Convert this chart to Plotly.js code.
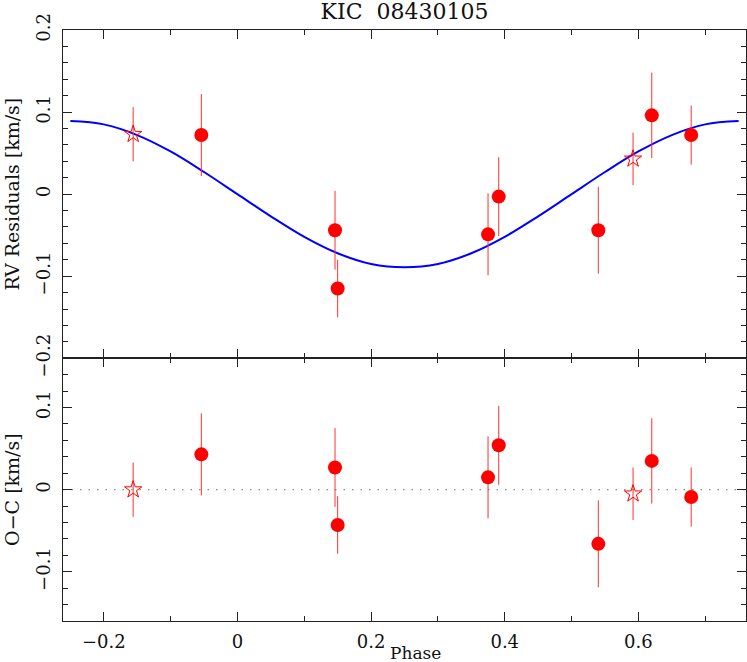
<!DOCTYPE html>
<html>
<head>
<meta charset="utf-8">
<script src="https://cdn.plot.ly/plotly-3.0.1.min.js"></script>
<style>html,body{margin:0;padding:0;background:#fff;}#chart{width:747px;height:662px;}</style>
</head>
<body>
<div id="chart"></div>
<script>
// Data
const dotPhase  = [-0.054, 0.146, 0.150, 0.375, 0.391, 0.540, 0.620, 0.679];
const dotRV     = [0.072, -0.044, -0.115, -0.049, -0.003, -0.044, 0.096, 0.072];
const dotRVErr  = [0.050, 0.048, 0.035, 0.050, 0.048, 0.053, 0.052, 0.036];
const dotOC     = [0.043, 0.027, -0.043, 0.015, 0.054, -0.066, 0.035, -0.009];
const dotOCErr  = [0.050, 0.048, 0.035, 0.050, 0.048, 0.053, 0.052, 0.036];

const starPhase = [-0.156, 0.592];
const starRV    = [0.073, 0.043];
const starRVErr = [0.033, 0.032];
const starOC    = [0.000, -0.005];
const starOCErr = [0.033, 0.032];

const modelPhase = [-0.25, -0.20, -0.15, -0.10, -0.05, 0.00, 0.05, 0.10, 0.15, 0.20, 0.25,
                    0.30, 0.35, 0.40, 0.45, 0.50, 0.55, 0.60, 0.65, 0.70, 0.75];
const modelRV    = [0.089, 0.085, 0.072, 0.052, 0.027, 0.000, -0.027, -0.052, -0.072, -0.085, -0.089,
                    -0.085, -0.072, -0.052, -0.027, 0.000, 0.027, 0.052, 0.072, 0.085, 0.089];

const titleText = 'KIC\u00A0\u00A008430105';
const yTitleTop = 'RV Residuals [km/s]';
const yTitleBottom = 'O\u2212C [km/s]';
const xTitle = 'Phase';

const FONT = 'DejaVu Serif, Liberation Serif, serif';
const AX = '#222';
const RED = '#ff0000';
const ERRC = '#ff3030';

const traces = [
  {x: modelPhase, y: modelRV, xaxis: 'x', yaxis: 'y', mode: 'lines', type: 'scatter',
   line: {color: '#0000ff', width: 2, shape: 'spline', smoothing: 1}, hoverinfo: 'skip'},
  {x: dotPhase, y: dotRV, xaxis: 'x', yaxis: 'y', mode: 'markers', type: 'scatter',
   marker: {symbol: 'circle', size: 14, color: RED, line: {width: 0}},
   error_y: {type: 'data', array: dotRVErr, visible: true, color: ERRC, thickness: 1, width: 0}},
  {x: starPhase, y: starRV, xaxis: 'x', yaxis: 'y', mode: 'markers', type: 'scatter',
   marker: {symbol: 'star-open', size: 13, color: RED, line: {width: 1, color: RED}},
   error_y: {type: 'data', array: starRVErr, visible: true, color: ERRC, thickness: 1, width: 0}},
  {x: dotPhase, y: dotOC, xaxis: 'x2', yaxis: 'y2', mode: 'markers', type: 'scatter',
   marker: {symbol: 'circle', size: 14, color: RED, line: {width: 0}},
   error_y: {type: 'data', array: dotOCErr, visible: true, color: ERRC, thickness: 1, width: 0}},
  {x: starPhase, y: starOC, xaxis: 'x2', yaxis: 'y2', mode: 'markers', type: 'scatter',
   marker: {symbol: 'star-open', size: 13, color: RED, line: {width: 1, color: RED}},
   error_y: {type: 'data', array: starOCErr, visible: true, color: ERRC, thickness: 1, width: 0}}
];

const common = {
  showline: true, linecolor: AX, linewidth: 1, mirror: 'ticks',
  ticks: 'inside', ticklen: 9, tickwidth: 1, tickcolor: AX,
  showgrid: false, zeroline: false,
  tickfont: {family: FONT, size: 18, color: '#111'}
};
const xRange = [-0.261, 0.761];
const split = 0.4445;

const layout = {
  width: 747, height: 662,
  margin: {l: 63, r: 1, t: 30, b: 41},
  paper_bgcolor: '#fff', plot_bgcolor: '#fff',
  showlegend: false,
  font: {family: FONT, color: '#111'},
  title: {text: titleText, font: {family: FONT, size: 22, color: '#111'},
          x: 0.5, xref: 'paper', y: 0.983, yref: 'container', yanchor: 'middle'},
  xaxis: Object.assign({}, common, {anchor: 'y', range: xRange, tick0: 0, dtick: 0.2,
          showticklabels: false, minor: {ticks: 'inside', ticklen: 5, tickcolor: AX, dtick: 0.1, tick0: 0}}),
  yaxis: Object.assign({}, common, {anchor: 'x', domain: [split, 1], range: [-0.2, 0.2], tick0: 0, dtick: 0.1,
          tickangle: -90, ticklabelstandoff: 5,
          minor: {ticks: 'inside', ticklen: 5, tickcolor: AX, dtick: 0.02, tick0: 0},
          title: {text: yTitleTop, font: {family: FONT, size: 19, color: '#111'}, standoff: 8}}),
  xaxis2: Object.assign({}, common, {anchor: 'y2', matches: 'x', range: xRange, tick0: 0, dtick: 0.2,
          ticklabelstandoff: 4,
          minor: {ticks: 'inside', ticklen: 5, tickcolor: AX, dtick: 0.1, tick0: 0}}),
  yaxis2: Object.assign({}, common, {anchor: 'x2', domain: [0, split], range: [-0.16, 0.16], tick0: 0, dtick: 0.1,
          tickangle: -90, ticklabelstandoff: 5,
          minor: {ticks: 'inside', ticklen: 5, tickcolor: AX, dtick: 0.02, tick0: 0},
          title: {text: yTitleBottom, font: {family: FONT, size: 19, color: '#111'}, standoff: 8}}),
  shapes: [{type: 'line', xref: 'x2 domain', yref: 'y2', x0: 0, x1: 1, y0: 0, y1: 0,
            line: {color: '#888', width: 1.2, dash: '1.5px,7px'}, layer: 'below'}],
  annotations: [{text: xTitle, xref: 'paper', yref: 'paper', x: 0.5, y: 0,
                 xanchor: 'center', yanchor: 'middle', yshift: -32, xshift: 11, showarrow: false,
                 font: {family: FONT, size: 17, color: '#111'}}]
};

Plotly.newPlot('chart', traces, layout, {displayModeBar: false, staticPlot: true});
</script>
</body>
</html>
